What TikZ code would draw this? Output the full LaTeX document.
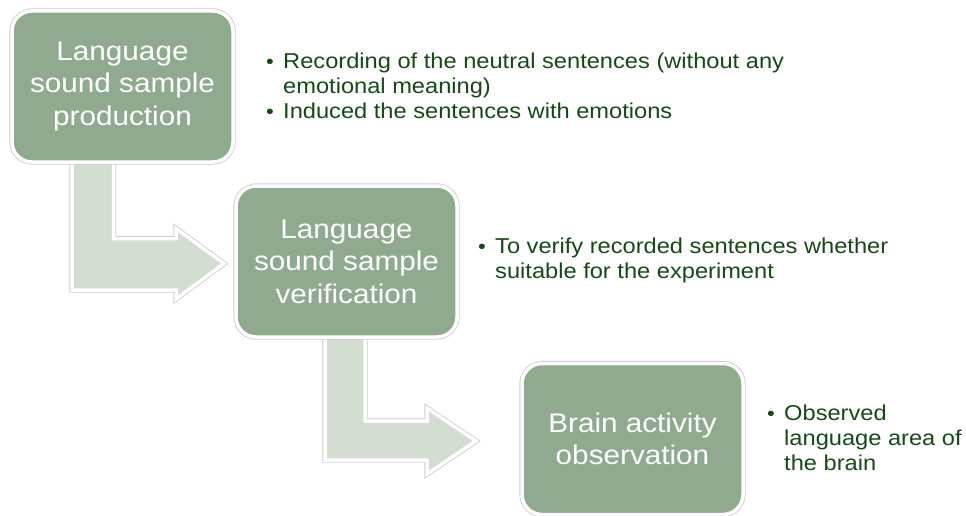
\documentclass[tikz,border=0pt]{standalone}
\usepackage{fontspec}
\setmainfont[FakeStretch=1.1]{Liberation Sans}
\definecolor{boxgreen}{RGB}{143,170,142}
\definecolor{arrowfill}{RGB}{211,221,210}
\definecolor{edgegray}{RGB}{205,205,205}
\definecolor{textgreen}{RGB}{24,72,24}
\tikzset{
  stepbox/.style={rectangle, rounded corners=20pt, fill=boxgreen, draw=white,
    line width=3.5pt, preaction={draw=edgegray, line width=5.2pt},
    minimum width=221pt, minimum height=151pt, inner sep=0pt,
    text=white, align=center, font=\fontsize{27}{32.5}\selectfont},
  bentarrow/.style={fill=arrowfill, draw=white, line width=3.5pt,
    preaction={draw=edgegray, line width=5.2pt}, line join=miter},
  itemtext/.style={anchor=base west, inner sep=0pt, align=left, text=textgreen,
    font=\fontsize{21.5}{25}\selectfont},
  bulletdot/.style={anchor=base, inner sep=0pt, text=textgreen,
    font=\fontsize{20}{25}\selectfont}
}
\begin{document}
\begin{tikzpicture}[x=1pt,y=-1pt]
\useasboundingbox[fill=white] (0,0) rectangle (966,516);
% bent arrows (drawn under boxes)
\draw[bentarrow] (72,150) -- (72,290) -- (176,290) -- (176,299) -- (224,263.5)
  -- (176,228.5) -- (176,238.5) -- (113.5,238.5) -- (113.5,150) -- cycle;
\draw[bentarrow] (325,330) -- (325,460) -- (427,460) -- (427,474) -- (476,441)
  -- (427,408) -- (427,421) -- (365,421) -- (365,330) -- cycle;
% boxes
\node[stepbox] (b1) at (122.5,86.5) {Language\\sound sample\\production};
\node[stepbox] (b2) at (346.5,261.5) {Language\\sound sample\\verification};
\node[stepbox] (b3) at (632.5,439) {Brain activity\\observation};
% bullets (a multi-line node's base is its last line)
\node[bulletdot] (d1) at (270,69) {•};
\node[itemtext] (t1) at (283,94) {Recording of the neutral sentences (without any\\emotional meaning)};
\node[bulletdot] (d2) at (270,119) {•};
\node[itemtext] (t2) at (283,119) {Induced the sentences with emotions};
\node[bulletdot] (d3) at (482,253) {•};
\node[itemtext] (t3) at (495,278) {To verify recorded sentences whether\\suitable for the experiment};
\node[bulletdot] (d4) at (771,420) {•};
\node[itemtext] (t4) at (784,470) {Observed\\language area of\\the brain};
\end{tikzpicture}
\end{document}
